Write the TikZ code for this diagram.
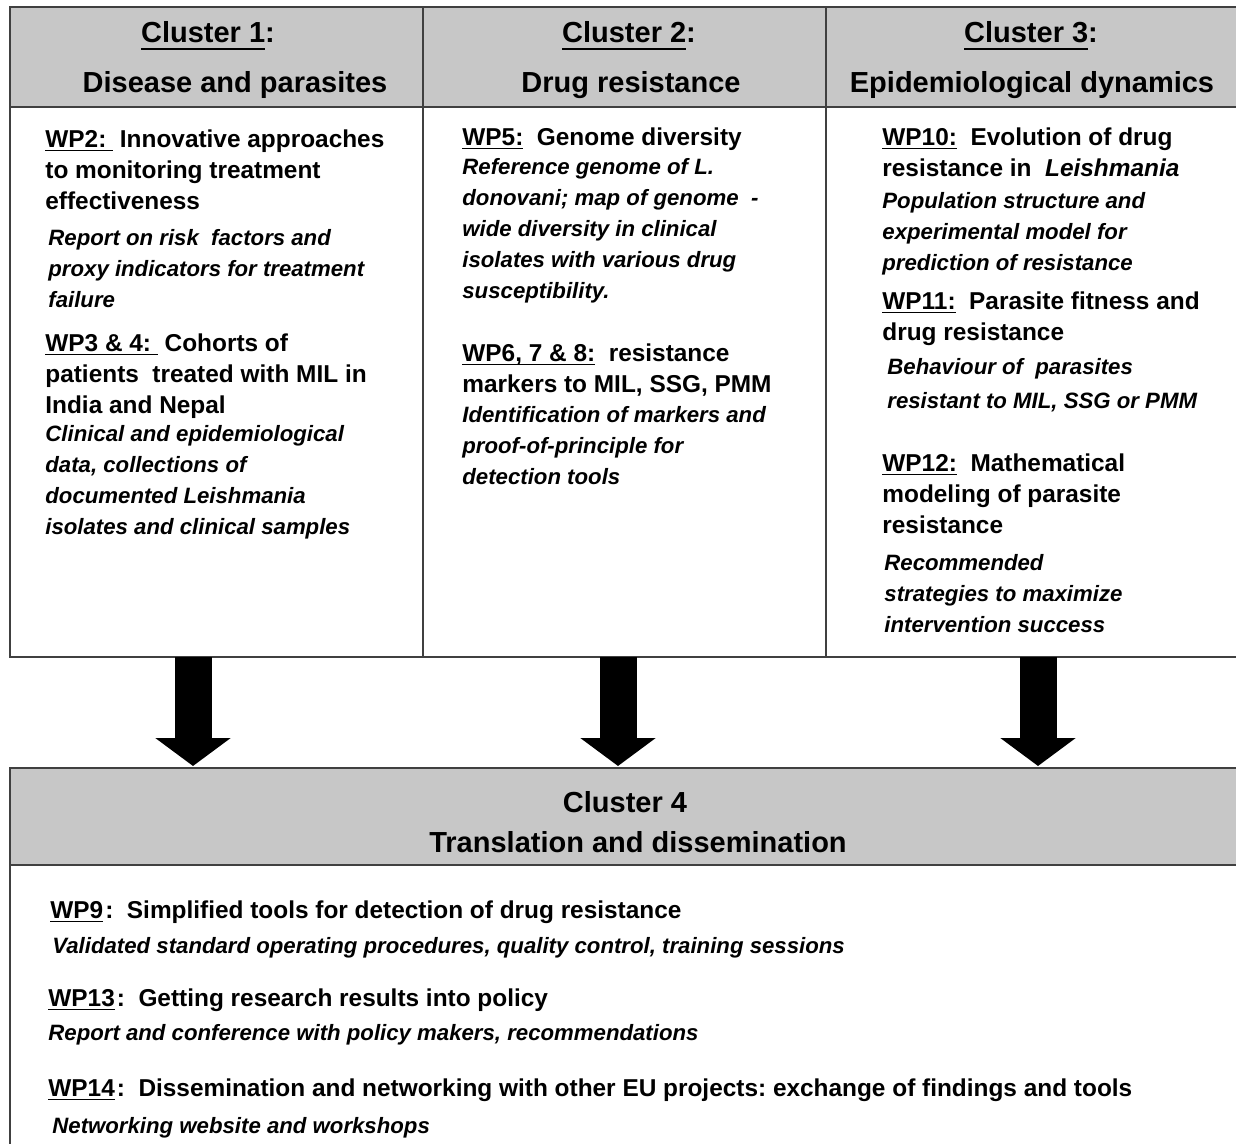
\documentclass[tikz,border=0pt]{standalone}
\usepackage{fontspec}
\setmainfont{Liberation Sans}
\usetikzlibrary{arrows.meta}
\frenchspacing

\definecolor{headgray}{gray}{0.78}
\definecolor{framegray}{gray}{0.25}

% underlines under the cluster and WP labels
\newcommand{\hdrline}[1]{\leavevmode\setbox0=\hbox{#1}\rlap{\rule[-3.6pt]{\wd0}{1.3pt}}\box0\relax}
\newcommand{\wpline}[1]{\leavevmode\setbox0=\hbox{#1}\rlap{\rule[-2.2pt]{\wd0}{0.9pt}}\box0\relax}

\tikzset{
    frame/.style={draw=framegray, line width=1pt},
    hdr/.style={anchor=base, inner sep=0pt, font=\fontsize{14.5}{18}\selectfont\bfseries},
    wptitle/.style={anchor=north west, align=left, inner sep=0pt, font=\fontsize{12.2}{15.5}\selectfont\bfseries},
    wpnote/.style={anchor=north west, align=left, inner sep=0pt, font=\fontsize{11.1}{15.5}\selectfont\bfseries\itshape},
    fatarrow/.style={line width=18.5pt, -{Triangle[width=37pt,length=14pt]}}
}

\begin{document}
\begin{tikzpicture}[x=0.5pt,y=-0.5pt]
    \useasboundingbox (0,0) rectangle (1236,1144);
    \clip (0,0) rectangle (1236,1144);

    % Top table
    \filldraw[frame, fill=headgray] (10,7) rectangle (1250,107);
    \draw[frame] (10,107) rectangle (1250,657);
    \draw[frame] (423,7) -- (423,657);
    \draw[frame] (826,7) -- (826,657);

    % Bottom table
    \filldraw[frame, fill=headgray] (10,768) rectangle (1250,865);
    \draw[frame] (10,865) rectangle (1250,1160);

    % Headers
    \node[hdr] (c1a) at (208,43) {\hdrline{Cluster 1}:};
    \node[hdr] (c1b) at (235,93) {Disease and parasites};
    \node[hdr] (c2a) at (629,43) {\hdrline{Cluster 2}:};
    \node[hdr] (c2b) at (631,93) {Drug resistance};
    \node[hdr] (c3a) at (1031,43) {\hdrline{Cluster 3}:};
    \node[hdr] (c3b) at (1032,93) {Epidemiological dynamics};
    \node[hdr] (c4a) at (625,812) {Cluster 4};
    \node[hdr] (c4b) at (638,852) {Translation and dissemination};

    % Cluster 1
    \node[wptitle] (wp2) at (45,129) {\wpline{WP2:\ } Innovative approaches\\to monitoring treatment\\effectiveness};
    \node[wpnote] (wp2out) at (48,229) {Report on risk\ \ factors and\\proxy indicators for treatment\\failure};
    \node[wptitle] (wp34) at (45,333) {\wpline{WP3 \& 4:\ } Cohorts of\\patients\ \ treated with MIL in\\India and Nepal};
    \node[wpnote] (wp34out) at (45,425) {Clinical and epidemiological\\data, collections of\\documented Leishmania\\isolates and clinical samples};

    % Cluster 2
    \node[wptitle] (wp5) at (462,127) {\wpline{WP5:}\ \ Genome diversity};
    \node[wpnote] (wp5out) at (462,158) {Reference genome of L.\\donovani; map of genome\ \ -\\wide diversity in clinical\\isolates with various drug\\susceptibility.};
    \node[wptitle] (wp678) at (462,343) {\wpline{WP6, 7 \& 8:}\ \ resistance\\markers to MIL, SSG, PMM};
    \node[wpnote] (wp678out) at (462,406) {Identification of markers and\\proof-of-principle for\\detection tools};

    % Cluster 3
    \node[wptitle] (wp10) at (882,127) {\wpline{WP10:}\ \ Evolution of drug\\resistance in\ \ \textit{Leishmania}};
    \node[wpnote] (wp10out) at (882,192) {Population structure and\\experimental model for\\prediction of resistance};
    \node[wptitle] (wp11) at (882,291) {\wpline{WP11:}\ \ Parasite fitness and\\drug resistance};
    \node[wpnote, font=\fontsize{11.1}{17}\selectfont\bfseries\itshape] (wp11out) at (887,358) {Behaviour of\ \ parasites\\resistant to MIL, SSG or PMM};
    \node[wptitle] (wp12) at (882,453) {\wpline{WP12:}\ \ Mathematical\\modeling of parasite\\resistance};
    \node[wpnote] (wp12out) at (884,554) {Recommended\\strategies to maximize\\intervention success};

    % Cluster 4
    \node[wptitle] (wp9) at (50,900) {\wpline{WP9}\kern1pt:\ \ Simplified tools for detection of drug resistance};
    \node[wpnote] (wp9out) at (52,937) {Validated standard operating procedures, quality control, training sessions};
    \node[wptitle] (wp13) at (48,988) {\wpline{WP13}\kern1pt:\ \ Getting research results into policy};
    \node[wpnote] (wp13out) at (48,1024) {Report and conference with policy makers, recommendations};
    \node[wptitle] (wp14) at (48,1078) {\wpline{WP14}\kern1pt:\ \ Dissemination and networking with other EU projects: exchange of findings and tools};
    \node[wpnote] (wp14out) at (52,1117) {Networking website and workshops};

    % Arrows
    \coordinate (c1out) at (193,657);
    \coordinate (c2out) at (618,657);
    \coordinate (c3out) at (1038,657);
    \coordinate (c4in1) at (193,766);
    \coordinate (c4in2) at (618,766);
    \coordinate (c4in3) at (1038,766);
    \draw[fatarrow] (c1out) -- (c4in1);
    \draw[fatarrow] (c2out) -- (c4in2);
    \draw[fatarrow] (c3out) -- (c4in3);
\end{tikzpicture}
\end{document}
